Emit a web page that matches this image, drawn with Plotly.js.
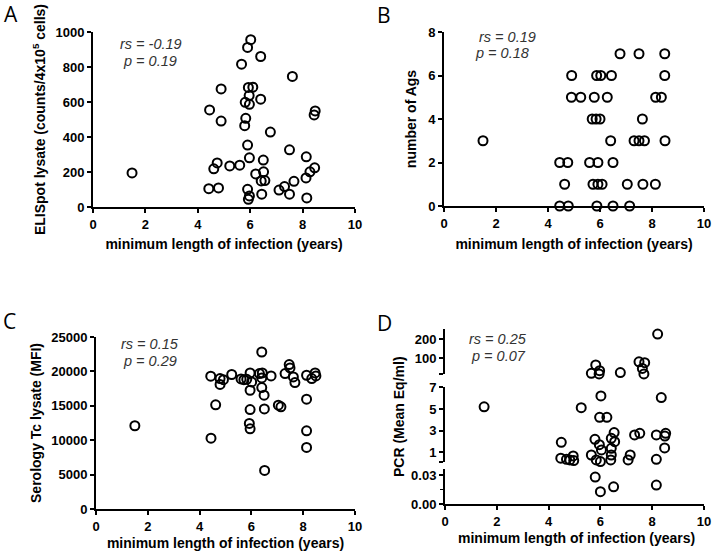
<!DOCTYPE html>
<html>
<head>
<meta charset="utf-8">
<script src="https://cdn.plot.ly/plotly-3.0.1.min.js"></script>
<style>
  html, body { margin: 0; padding: 0; background: #fff; }
  #chart { width: 712px; height: 551px; }
</style>
</head>
<body>
<div id="chart"></div>
<script>
// A: ELISpot lysate vs years
var elispotYears = [1.49, 6.02, 5.90, 6.40, 5.67, 7.61, 4.89, 5.93, 6.10, 5.96, 6.40, 5.81, 5.97, 4.45, 8.48, 8.44,
  4.89, 5.83, 5.79, 6.77, 5.90, 7.50, 5.97, 8.14, 4.74, 4.61, 5.22, 5.60, 6.50, 6.21, 6.51, 8.46, 8.28, 8.13,
  6.42, 6.56, 7.67, 7.31, 7.10, 4.42, 4.79, 5.90, 6.44, 7.50, 5.97, 5.93, 8.16];
var elispotCounts = [195, 956, 912, 860, 816, 746, 675, 683, 685, 637, 616, 598, 587, 555, 549, 526,
  491, 507, 465, 428, 354, 327, 281, 287, 252, 218, 235, 239, 268, 189, 201, 224, 201, 166,
  149, 151, 147, 117, 97, 105, 109, 101, 73, 73, 63, 44, 52];

// B: number of Ags vs years
var agsYears = [6.77, 7.5, 8.49,
  4.91, 5.87, 6.03, 6.44, 8.49,
  4.90, 5.26, 5.78, 6.28, 8.14, 8.36,
  5.7, 5.85, 6.0, 7.63,
  1.5, 6.41, 7.31, 7.5, 7.71, 8.5,
  4.45, 4.76, 5.60, 5.92, 6.5,
  4.64, 5.73, 5.92, 6.08, 7.05, 7.65, 8.13,
  4.45, 4.78, 5.88, 6.5, 7.14];
var agsCount = [7, 7, 7,
  6, 6, 6, 6, 6,
  5, 5, 5, 5, 5, 5,
  4, 4, 4, 4,
  3, 3, 3, 3, 3, 3,
  2, 2, 2, 2, 2,
  1, 1, 1, 1, 1, 1, 1,
  0, 0, 0, 0, 0];

// C: Serology Tc lysate vs years
var seroYears = [1.5, 4.43, 4.62, 4.44, 4.79, 4.92, 4.79, 5.24, 5.6, 5.71, 5.82, 5.95, 6.01, 6.31, 6.42, 6.40,
  6.76, 5.95, 6.40, 6.49, 5.95, 6.50, 7.04, 7.14, 5.92, 5.95, 6.51, 6.40, 7.30, 7.46, 7.49, 7.62, 7.68,
  8.13, 8.33, 8.46, 8.49, 8.13, 8.13, 8.13];
var seroMFI = [12100, 19300, 15150, 10300, 18950, 18800, 18100, 19550, 18900, 18800, 18850, 19780, 18470, 19680, 19780, 19050,
  19340, 17260, 17650, 16540, 14460, 14550, 15090, 14850, 12430, 11650, 5600, 22820, 19680, 20990, 20500, 19200, 18380,
  19440, 18960, 19780, 19340, 15960, 11360, 8950];

// D: PCR (Mean Eq/ml) vs years
var pcrYears = [8.21, 5.82, 5.97, 5.95, 5.65, 6.77, 7.49, 7.71, 7.62, 7.68,
  6.02, 8.35, 1.51, 5.26, 5.97, 6.25, 6.53, 7.32, 7.52, 8.16, 8.52, 8.49,
  4.49, 5.79, 5.96, 6.42, 6.55, 6.04, 6.42, 8.48,
  4.47, 4.69, 4.82, 4.95, 4.97, 5.65, 5.84, 6.0, 6.42, 6.40, 7.15, 7.07, 8.16,
  5.80, 6.51, 6.0, 8.16];
var pcrEq = [228, 65, 35, 18, 21, 25, 82, 77, 47, 18,
  6.2, 6.05, 5.2, 5.12, 4.23, 4.23, 2.82, 2.6, 2.75, 2.6, 2.75, 2.5,
  1.92, 2.2, 1.7, 2.29, 1.98, 1.22, 1.37, 1.4,
  0.45, 0.35, 0.29, 0.66, 0.23, 0.75, 0.29, 0.14, 0.75, 0.29, 0.75, 0.29, 0.35,
  0.028, 0.018, 0.013, 0.0198];

var W = 712, H = 551;
function dx(a, b) { return [a / W, b / W]; }
function dy(top, bottom) { return [1 - bottom / H, 1 - top / H]; }

var tickFont = {family: 'Liberation Sans, Arial, sans-serif', size: 13, weight: 'bold', color: '#000'};
var titleFont = {family: 'Liberation Sans, Arial, sans-serif', size: 14, weight: 'bold', color: '#000'};
var xTitle = 'minimum length of infection (years)';

function axis(extra) {
  var a = {
    showline: true, linecolor: '#000', linewidth: 2,
    ticks: 'outside', ticklen: 4, tickwidth: 2, tickcolor: '#000',
    showgrid: false, zeroline: false, fixedrange: true,
    tickfont: tickFont, tickformat: 'd'
  };
  for (var k in extra) a[k] = extra[k];
  return a;
}

var marker = {symbol: 'circle-open', size: 9, color: '#000', line: {width: 2, color: '#000'}};

function pts(x, y, xa, ya) {
  return {x: x, y: y, xaxis: xa, yaxis: ya, type: 'scatter', mode: 'markers',
    marker: marker, cliponaxis: false, hoverinfo: 'none'};
}

function pick(lo, hi) {
  var xs = [], ys = [];
  for (var i = 0; i < pcrEq.length; i++) {
    if (pcrEq[i] >= lo && pcrEq[i] < hi) { xs.push(pcrYears[i]); ys.push(pcrEq[i]); }
  }
  return [xs, ys];
}
var low = pick(0, 0.1), mid = pick(0.1, 10), high = pick(10, 1000);

var data = [
  pts(elispotYears, elispotCounts, 'x', 'y'),
  pts(agsYears, agsCount, 'x2', 'y2'),
  pts(seroYears, seroMFI, 'x3', 'y3'),
  pts(low[0], low[1], 'x4', 'y4'),
  pts(mid[0], mid[1], 'x4', 'y5'),
  pts(high[0], high[1], 'x4', 'y6')
];

function note(text, x, y, size, italic, angle) {
  return {
    text: text, xref: 'paper', yref: 'paper', x: x / W, y: 1 - y / H,
    xanchor: 'center', yanchor: 'middle', showarrow: false, textangle: angle || 0,
    font: italic
      ? {family: 'Liberation Sans, Arial, sans-serif', size: size, style: 'italic', color: '#333'}
      : {family: 'Liberation Sans, Arial, sans-serif', size: size, weight: 'bold', color: '#000'}
  };
}
function letter(text, x, y) {
  return {
    text: text, xref: 'paper', yref: 'paper', x: x / W, y: 1 - y / H,
    xanchor: 'left', yanchor: 'middle', showarrow: false,
    font: {family: 'Open Sans, sans-serif', size: 21, color: '#000'}
  };
}
// small cap tick at the end of a broken-axis segment
function cap(v) {
  return {tickvals: [v], ticklen: 4, tickwidth: 2, tickcolor: '#000', ticks: 'outside'};
}

var layout = {
  width: W, height: H,
  margin: {l: 0, r: 0, t: 0, b: 0},
  paper_bgcolor: '#fff', plot_bgcolor: 'rgba(0,0,0,0)',
  showlegend: false, hovermode: false,

  xaxis: axis({domain: dx(93, 355), range: [0, 10], dtick: 2, anchor: 'y',
    title: {text: xTitle, font: titleFont, standoff: 9}}),
  yaxis: axis({domain: dy(32, 207), range: [0, 1000], dtick: 200, anchor: 'x',
    title: {text: 'ELISpot lysate (counts/4x10<sup>5</sup> cells)', font: titleFont, standoff: 7}}),

  xaxis2: axis({domain: dx(444, 704), range: [0, 10], dtick: 2, anchor: 'y2',
    title: {text: xTitle, font: titleFont, standoff: 10}}),
  yaxis2: axis({domain: dy(32, 206), range: [0, 8], dtick: 2, anchor: 'x2',
    title: {text: 'number of Ags', font: titleFont, standoff: 8}}),

  xaxis3: axis({domain: dx(96, 355), range: [0, 10], dtick: 2, anchor: 'y3',
    title: {text: xTitle, font: titleFont, standoff: 10}}),
  yaxis3: axis({domain: dy(337, 509), range: [0, 25000], dtick: 5000, anchor: 'x3',
    title: {text: 'Serology Tc lysate (MFI)', font: titleFont, standoff: 6}}),

  xaxis4: axis({domain: dx(445, 704), range: [0, 10], dtick: 2, anchor: 'y4'}),
  yaxis4: axis({domain: dy(469.3, 504.3), range: [0, 0.036], anchor: 'x4',
    tickvals: [0, 0.03], ticktext: ['0.00', '0.03'],
    minor: {tickvals: [0.015], ticklen: 3, tickwidth: 1.5, tickcolor: '#000', ticks: 'outside'}}),
  yaxis5: axis({domain: dy(387.3, 461.7), range: [0.13, 7], anchor: 'x4',
    tickvals: [1, 3, 5, 7], minor: cap(0.13)}),
  yaxis6: axis({domain: dy(329.3, 374.3), range: [16, 253], anchor: 'x4',
    tickvals: [100, 200], minor: cap(16)}),

  annotations: [
    letter('A', 2, 14.5), letter('B', 375, 15), letter('C', 1, 320.5), letter('D', 375, 322.5),
    note('rs = -0.19', 150.5, 44, 14.5, true), note('p = 0.19', 149.5, 61, 14.5, true),
    note('rs = 0.19', 507, 37, 14.5, true), note('p = 0.18', 502, 53, 14.5, true),
    note('rs = 0.15', 149.5, 344, 14.5, true), note('p = 0.29', 150, 361, 14.5, true),
    note('rs = 0.25', 498, 339, 14.5, true), note('p = 0.07', 498.5, 356, 14.5, true),
    note('PCR (Mean Eq/ml)', 399, 417, 14, false, -90),
    note(xTitle, 576, 537.5, 14, false)
  ]
};

Plotly.newPlot('chart', data, layout, {staticPlot: true, displayModeBar: false});
</script>
</body>
</html>
